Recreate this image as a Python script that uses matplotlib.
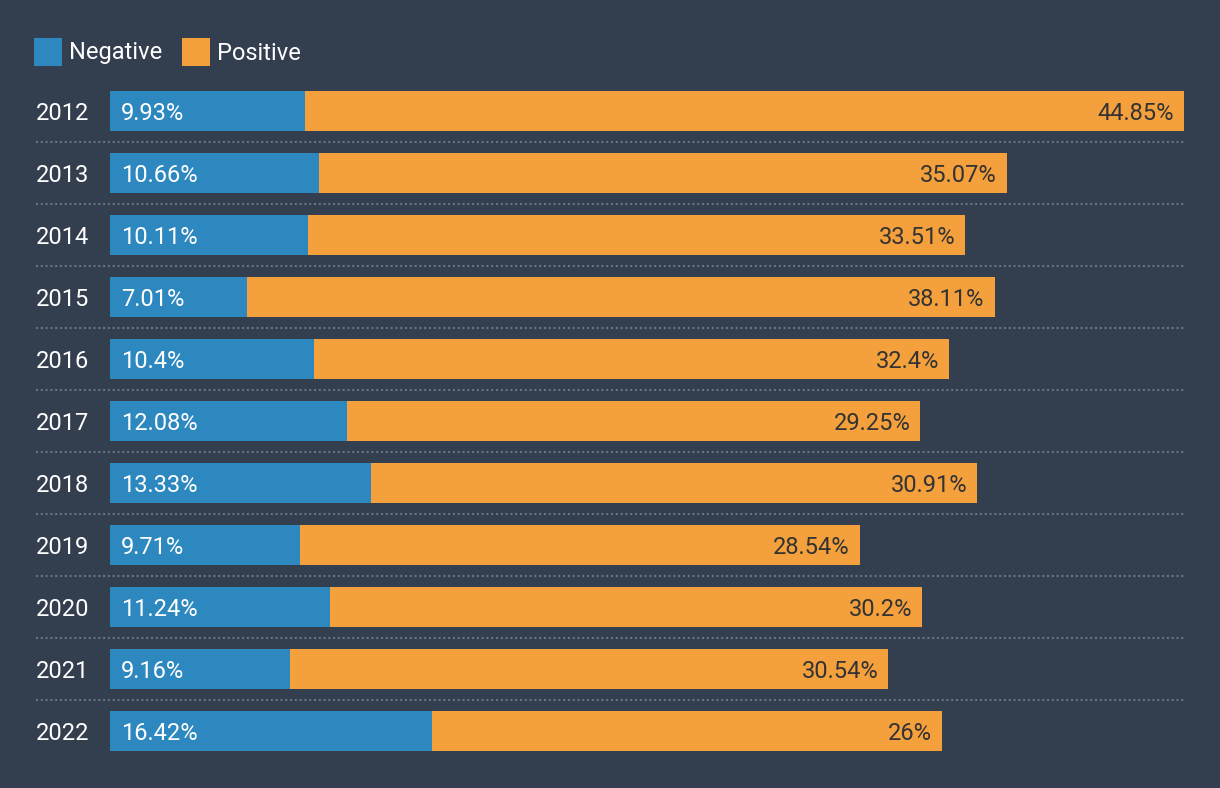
import matplotlib
matplotlib.use("Agg")
import matplotlib.pyplot as plt
from matplotlib.patches import Rectangle
from matplotlib.lines import Line2D
import matplotlib.transforms as mtransforms

years = ["2012", "2013", "2014", "2015", "2016", "2017", "2018", "2019", "2020", "2021", "2022"]
negative = [9.93, 10.66, 10.11, 7.01, 10.4, 12.08, 13.33, 9.71, 11.24, 9.16, 16.42]
positive = [44.85, 35.07, 33.51, 38.11, 32.4, 29.25, 30.91, 28.54, 30.2, 30.54, 26]
neg_labels = ["9.93%", "10.66%", "10.11%", "7.01%", "10.4%", "12.08%", "13.33%", "9.71%", "11.24%", "9.16%", "16.42%"]
pos_labels = ["44.85%", "35.07%", "33.51%", "38.11%", "32.4%", "29.25%", "30.91%", "28.54%", "30.2%", "30.54%", "26%"]

BG = "#333e4f"
BLUE = "#2e88c0"
ORANGE = "#f4a03c"
W, H = 1220, 788
FS = 17

plt.rcParams["font.family"] = ["Roboto", "DejaVu Sans"]
fig = plt.figure(figsize=(W / 100, H / 100), dpi=100, facecolor=BG)

x0, x1 = 110, 1184
top, bot = 80, 762
ax = fig.add_axes([x0 / W, 1 - bot / H, (x1 - x0) / W, (bot - top) / H])
ax.set_facecolor(BG)
for s in ax.spines.values():
    s.set_visible(False)
ax.set_xticks([])
ax.set_yticks([])

n = len(years)
ypos = list(range(n))
totals = [a + b for a, b in zip(negative, positive)]
ax.set_xlim(0, max(totals))
ax.set_ylim(n - 0.5, -0.5)

bh = 40 / 62
ax.barh(ypos, negative, height=bh, color=BLUE, linewidth=0)
ax.barh(ypos, positive, left=negative, height=bh, color=ORANGE, linewidth=0)

off = mtransforms.ScaledTranslation
dy = -2 / 100
for i in range(n):
    ax.text(0, i, neg_labels[i], color="white", fontsize=FS, va="center", ha="left",
            transform=ax.transData + off(11 / 100, dy, fig.dpi_scale_trans))
    ax.text(totals[i], i, pos_labels[i], color="#333333", fontsize=FS, va="center", ha="right",
            transform=ax.transData + off(-10 / 100, dy, fig.dpi_scale_trans))

blend = mtransforms.blended_transform_factory(fig.transFigure, ax.transData)
for i in range(n):
    ax.text(36 / W, i, years[i], color="white", fontsize=FS, va="center", ha="left",
            transform=blend + off(0, dy, fig.dpi_scale_trans))
for i in range(n - 1):
    ln = Line2D([36 / W, x1 / W], [i + 0.5, i + 0.5], transform=blend, color="#6a7384",
                lw=1.5, linestyle=(0, (1, 1.3)), clip_on=False)
    ax.add_line(ln)

# legend
fig.patches.append(Rectangle((34 / W, 1 - 66 / H), 28 / W, 28 / H, transform=fig.transFigure,
                             facecolor=BLUE, edgecolor="none"))
fig.text(69 / W, 1 - 53 / H, "Negative", color="white", fontsize=FS, va="center", ha="left")
fig.patches.append(Rectangle((182 / W, 1 - 66 / H), 28 / W, 28 / H, transform=fig.transFigure,
                             facecolor=ORANGE, edgecolor="none"))
fig.text(217 / W, 1 - 53 / H, "Positive", color="white", fontsize=FS, va="center", ha="left")

fig.savefig("out.png", dpi=100, facecolor=BG)
